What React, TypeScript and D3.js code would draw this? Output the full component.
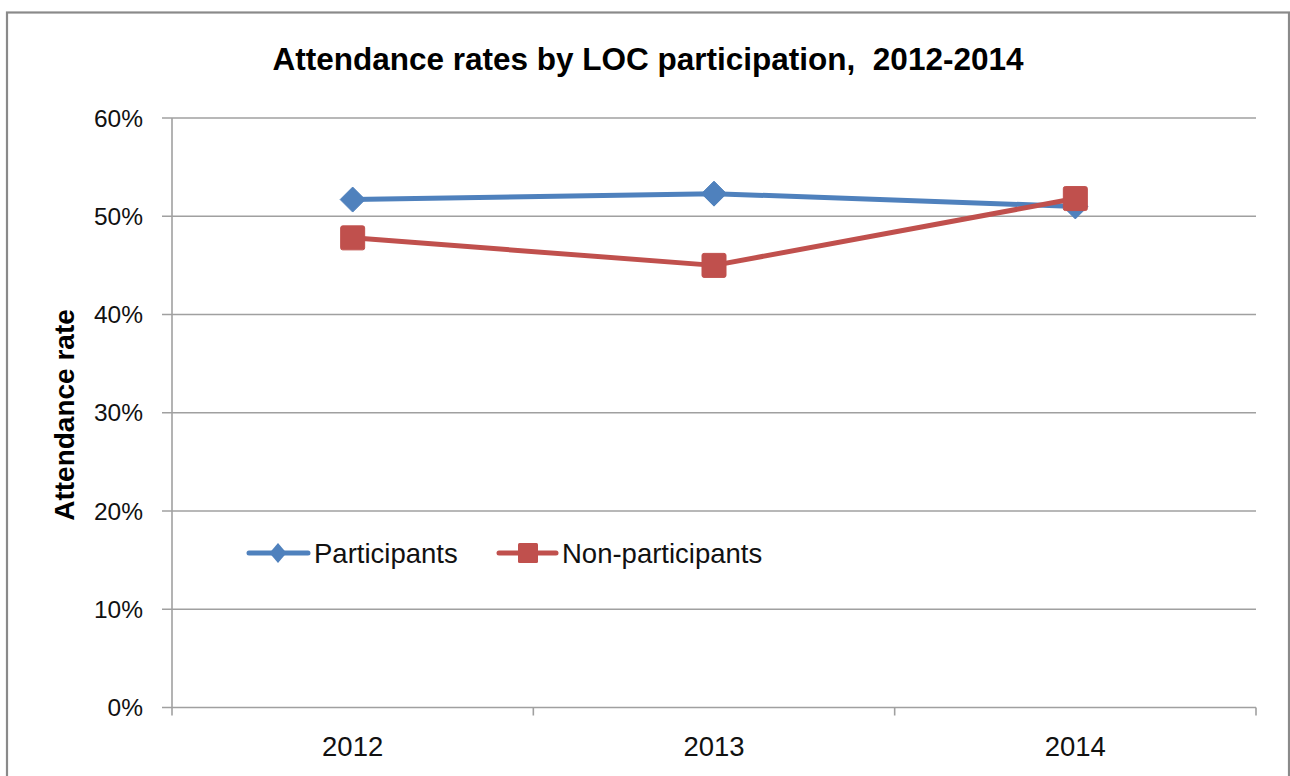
import React from "react";
import * as d3 from "d3";

const years = ["2012", "2013", "2014"];
const participants = [0.517, 0.523, 0.51];
const nonParticipants = [0.478, 0.45, 0.518];
const yTicks = [0, 0.1, 0.2, 0.3, 0.4, 0.5, 0.6];
const seriesNames = ["Participants", "Non-participants"];

const W = 1290;
const H = 776;
const left = 172;
const right = 1256;
const top = 118;
const bottom = 707.5;

const BLUE = "#4F81BD";
const RED = "#C0504D";
const GRID = "#a0a0a0";
const FONT = "'Liberation Sans', Arial, sans-serif";

export default function App() {
  const x = d3.scaleBand<string>().domain(years).range([left, right]);
  const y = d3.scaleLinear().domain([0, 0.6]).range([bottom, top]);
  const cx = (d: string) => (x(d) ?? 0) + x.bandwidth() / 2;
  const fmt = d3.format(".0%");

  const line = d3
    .line<number>()
    .x((_, i) => cx(years[i]))
    .y((v) => y(v));

  const diamond = (px: number, py: number, r: number) =>
    `M${px},${py - r}L${px + r},${py}L${px},${py + r}L${px - r},${py}Z`;

  const boundaries = [left, ...years.map((d) => (x(d) ?? 0) + x.bandwidth())];

  return (
    <svg
      width={W}
      height={H}
      style={{ position: "fixed", left: 0, top: 0, background: "#fff" }}
    >
      <rect x={0} y={0} width={W} height={H} fill="#fff" />
      {/* chart frame */}
      <rect x={7} y={12.5} width={1282} height={H + 20} fill="none" stroke="#8a8a8a" strokeWidth={2.2} />

      <text
        x={648}
        y={70}
        textAnchor="middle"
        fontFamily={FONT}
        fontWeight="bold"
        fontSize={31.5}
        fill="#000"
        style={{ whiteSpace: "pre" }}
      >
        Attendance rates by LOC participation,  2012-2014
      </text>

      {/* horizontal gridlines and y labels */}
      {yTicks.map((t) => (
        <g key={t}>
          <line x1={162} x2={right} y1={y(t)} y2={y(t)} stroke={GRID} strokeWidth={1.6} />
          <text
            x={143}
            y={y(t) + 8.5}
            textAnchor="end"
            fontFamily={FONT}
            fontSize={24.5}
            fill="#111"
          >
            {fmt(t)}
          </text>
        </g>
      ))}

      {/* axes */}
      <line x1={left} x2={left} y1={top} y2={bottom} stroke={GRID} strokeWidth={1.6} />
      {boundaries.map((b, i) => (
        <line key={i} x1={b} x2={b} y1={bottom} y2={bottom + 8} stroke={GRID} strokeWidth={1.6} />
      ))}
      {years.map((d) => (
        <text
          key={d}
          x={cx(d)}
          y={755.5}
          textAnchor="middle"
          fontFamily={FONT}
          fontSize={27.5}
          fill="#111"
        >
          {d}
        </text>
      ))}

      <text
        transform={`translate(74,415) rotate(-90)`}
        textAnchor="middle"
        fontFamily={FONT}
        fontWeight="bold"
        fontSize={28}
        fill="#000"
      >
        Attendance rate
      </text>

      {/* Participants series */}
      <path d={line(participants) ?? ""} fill="none" stroke={BLUE} strokeWidth={5} strokeLinejoin="round" strokeLinecap="round" />
      {participants.map((v, i) => (
        <path key={i} d={diamond(cx(years[i]), y(v), 12.5)} fill={BLUE} stroke={BLUE} strokeWidth={1} />
      ))}

      {/* Non-participants series */}
      <path d={line(nonParticipants) ?? ""} fill="none" stroke={RED} strokeWidth={5} strokeLinejoin="round" strokeLinecap="round" />
      {nonParticipants.map((v, i) => (
        <rect
          key={i}
          x={cx(years[i]) - 12}
          y={y(v) - 12}
          width={24}
          height={24}
          rx={2}
          fill={RED}
          stroke={RED}
          strokeWidth={1}
        />
      ))}

      {/* legend */}
      <g>
        <line x1={249} x2={308} y1={553} y2={553} stroke={BLUE} strokeWidth={5} strokeLinecap="round" />
        <path d={`M278,543L286.5,553L278,563L269.5,553Z`} fill={BLUE} />
        <text x={314} y={562.5} fontFamily={FONT} fontSize={27.5} fill="#111">
          {seriesNames[0]}
        </text>
        <line x1={499} x2={556} y1={553} y2={553} stroke={RED} strokeWidth={5} strokeLinecap="round" />
        <rect x={518} y={543} width={20} height={20} rx={1.5} fill={RED} />
        <text x={562} y={562.5} fontFamily={FONT} fontSize={27.5} fill="#111">
          {seriesNames[1]}
        </text>
      </g>
    </svg>
  );
}
